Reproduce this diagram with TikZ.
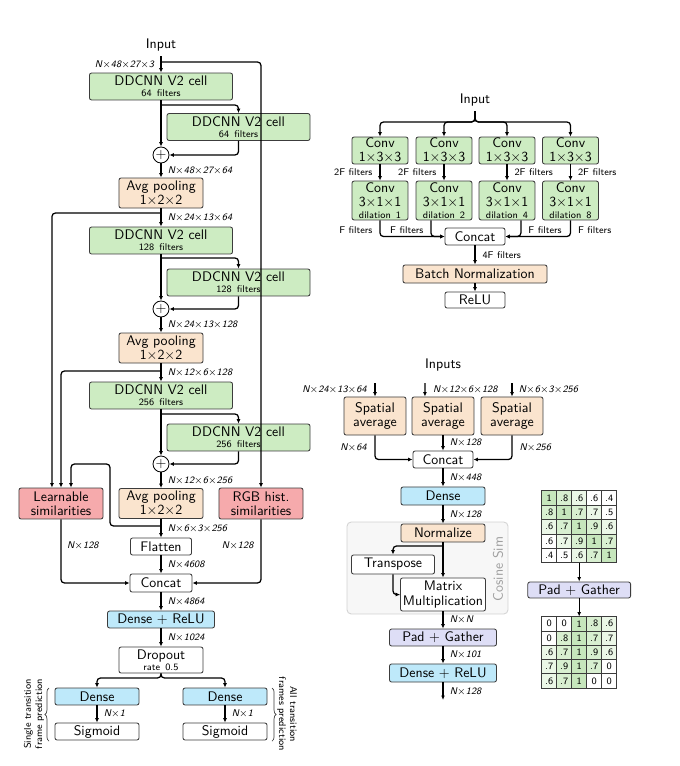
\documentclass[tikz,border=0pt]{standalone}
\usetikzlibrary{arrows.meta,decorations.pathreplacing}
\definecolor{cgreen}{RGB}{205,236,194}
\definecolor{corange}{RGB}{250,228,206}
\definecolor{cpink}{RGB}{246,170,172}
\definecolor{cblue}{RGB}{190,233,250}
\definecolor{clav}{RGB}{222,222,246}
\definecolor{cborder}{RGB}{60,60,60}
\definecolor{cella}{RGB}{198,230,188}
\definecolor{cellb}{RGB}{216,239,208}
\definecolor{cellc}{RGB}{235,247,231}
\definecolor{cellw}{RGB}{255,255,255}
\newcommand\tms{$\times$}
\newcommand\smtxt{\fontsize{7}{8}\selectfont}
\begin{document}
\begin{tikzpicture}[x=0.72pt,y=-0.72pt,
  every node/.style={font=\sffamily\fontsize{10}{10.2}\selectfont},
  nbox/.style={draw=cborder,line width=0.6pt,rounded corners=1.5pt,inner sep=0pt,align=center,fill=white},
  gbox/.style={nbox,fill=cgreen},
  obox/.style={nbox,fill=corange},
  pbox/.style={nbox,fill=cpink},
  bbox/.style={nbox,fill=cblue},
  lbox/.style={nbox,fill=clav},
  ddc/.style={gbox,minimum width=103pt,minimum height=19.4pt},
  pool/.style={obox,minimum width=60.5pt,minimum height=21.6pt},
  plus/.style={circle,draw=black,line width=0.6pt,fill=white,minimum size=11.5pt,inner sep=0pt},
  arr/.style={line width=0.9pt,-{Latex[length=3.2pt,width=2.8pt]},rounded corners=2.5pt},
  dlab/.style={font=\sffamily\itshape\fontsize{7}{8}\selectfont,inner sep=0pt},
  lab/.style={font=\sffamily\fontsize{7}{8}\selectfont,inner sep=0pt},
  mcell/.style={draw=cborder,line width=0.5pt,minimum width=10.8pt,minimum height=10.4pt,inner sep=0pt,outer sep=0pt,font=\sffamily\fontsize{7}{8}\selectfont},
  brc/.style={decorate,decoration={brace,amplitude=3pt},line width=0.5pt,cborder}
]
\fill[white] (0,0) rectangle (680,766);
\useasboundingbox (0,0) rectangle (680,766);

% ---------------- left network ----------------
\node (inL) at (161,45) {Input};
\node[ddc] (c1) at (161,86.5) {DDCNN V2 cell\\[-2.5pt]{\smtxt 64\, filters}};
\node[ddc] (c2) at (238.5,127) {DDCNN V2 cell\\[-2.5pt]{\smtxt 64\, filters}};
\node[plus] (p1) at (161,155) {$+$};
\node[pool] (a1) at (161,193) {Avg pooling\\1\tms2\tms2};
\node[ddc] (c3) at (161,240.5) {DDCNN V2 cell\\[-2.5pt]{\smtxt 128\, filters}};
\node[ddc] (c4) at (238.5,282.5) {DDCNN V2 cell\\[-2.5pt]{\smtxt 128\, filters}};
\node[plus] (p2) at (161,309) {$+$};
\node[pool] (a2) at (161,348) {Avg pooling\\1\tms2\tms2};
\node[ddc] (c5) at (161,395.5) {DDCNN V2 cell\\[-2.5pt]{\smtxt 256\, filters}};
\node[ddc] (c6) at (238.5,437.5) {DDCNN V2 cell\\[-2.5pt]{\smtxt 256\, filters}};
\node[plus] (p3) at (161,464) {$+$};
\node[pool] (a3) at (161,503.5) {Avg pooling\\1\tms2\tms2};
\node[pbox,minimum width=60.5pt,minimum height=22.3pt] (ls) at (61,503.5) {Learnable\\similarities};
\node[pbox,minimum width=60.5pt,minimum height=22.3pt] (rgb) at (261,503.5) {RGB hist.\\similarities};
\node[nbox,minimum width=44pt,minimum height=12.2pt] (fl) at (161,546.5) {Flatten};
\node[nbox,minimum width=44.6pt,minimum height=13pt] (cc) at (161,583) {Concat};
\node[bbox,minimum width=77pt,minimum height=12.2pt] (dr) at (161,619.5) {Dense $+$ ReLU};
\node[nbox,minimum width=60.5pt,minimum height=18.7pt] (do) at (161,660) {Dropout\\[-2.5pt]{\smtxt rate\, 0.5}};
\node[bbox,minimum width=60.5pt,minimum height=12.2pt] (dL) at (97,696.5) {Dense};
\node[nbox,minimum width=60.5pt,minimum height=12.2pt] (sL) at (97,731.5) {Sigmoid};
\node[bbox,minimum width=60.5pt,minimum height=12.2pt] (dR) at (225,696.5) {Dense};
\node[nbox,minimum width=60.5pt,minimum height=12.2pt] (sR) at (225,731.5) {Sigmoid};

\coordinate (j0) at (161,62);
\coordinate (j1) at (161,105);
\coordinate (j2) at (161,213);
\coordinate (j3) at (161,258);
\coordinate (j4) at (161,371);
\coordinate (j5) at (161,414);
\coordinate (j6) at (161,526);
\coordinate (w1) at (110,526);
\coordinate (w2) at (110,464);
\coordinate (jd) at (161,678);

\draw[arr] (inL) -- node[dlab,left=4.5pt]{N\tms48\tms27\tms3} (c1);
\draw[arr] (j0) -| (rgb.north);
\draw[arr] (c1) -- (p1);
\draw[arr] (j1) -| (c2.north);
\draw[arr] (c2.south) |- (p1.east);
\draw[arr] (p1) -- node[dlab,right=4.5pt]{N\tms48\tms27\tms64} (a1);
\draw[arr] (a1) -- node[dlab,right=4.5pt]{N\tms24\tms13\tms64} (c3);
\draw[arr] (j2) -| ([xshift=-6.5pt]ls.north);
\draw[arr] (c3) -- (p2);
\draw[arr] (j3) -| (c4.north);
\draw[arr] (c4.south) |- (p2.east);
\draw[arr] (p2) -- node[dlab,right=4.5pt]{N\tms24\tms13\tms128} (a2);
\draw[arr] (a2) -- node[dlab,right=4.5pt]{N\tms12\tms6\tms128} (c5);
\draw[arr] (j4) -| (ls.north);
\draw[arr] (c5) -- (p3);
\draw[arr] (j5) -| (c6.north);
\draw[arr] (c6.south) |- (p3.east);
\draw[arr] (p3) -- node[dlab,right=4.5pt]{N\tms12\tms6\tms256} (a3);
\draw[arr] (a3) -- node[dlab,right=4.5pt]{N\tms6\tms3\tms256} (fl);
\draw[arr] (j6) -- (w1) -- (w2) -| ([xshift=7.2pt]ls.north);
\draw[arr] (fl) -- node[dlab,right=4.5pt]{N\tms4608} (cc);
\draw[arr] (ls.south) |- node[dlab,pos=0.21,right=4pt]{N\tms128} (cc.west);
\draw[arr] (rgb.south) |- node[dlab,pos=0.21,left=5pt]{N\tms128} (cc.east);
\draw[arr] (cc) -- node[dlab,right=4.5pt]{N\tms4864} (dr);
\draw[arr] (dr) -- node[dlab,right=4.5pt]{N\tms1024} (do);
\draw[arr] (do.south) -- (jd) -| (dL.north);
\draw[arr] (do.south) -- (jd) -| (dR.north);
\draw[arr] (dL) -- node[dlab,right=4.5pt]{N\tms1} (sL);
\draw[arr] (dR) -- node[dlab,right=4.5pt]{N\tms1} (sR);

\draw[brc] (49,741) -- (49,688);
\draw[brc] (272,688) -- (272,741);
\node[rotate=90,align=center,font=\sffamily\smtxt] (tL) at (34,714) {Single transition\\frame prediction};
\node[rotate=-90,align=center,font=\sffamily\smtxt] (tR) at (287,714) {All transition\\frames prediction};

% ---------------- DDCNN cell ----------------
\node (in2) at (475,100) {Input};
\coordinate (jt) at (475,122);
\node[gbox,minimum width=40.3pt,minimum height=19.4pt] (k1) at (380,150.5) {Conv\\1\tms3\tms3};
\node[gbox,minimum width=40.3pt,minimum height=19.4pt] (k2) at (444,150.5) {Conv\\1\tms3\tms3};
\node[gbox,minimum width=40.3pt,minimum height=19.4pt] (k3) at (507,150.5) {Conv\\1\tms3\tms3};
\node[gbox,minimum width=40.3pt,minimum height=19.4pt] (k4) at (570.5,150.5) {Conv\\1\tms3\tms3};
\node[gbox,minimum width=40.3pt,minimum height=28pt] (m1) at (380,200.5) {Conv\\3\tms1\tms1\\[-2pt]{\smtxt dilation\, 1}};
\node[gbox,minimum width=40.3pt,minimum height=28pt] (m2) at (444,200.5) {Conv\\3\tms1\tms1\\[-2pt]{\smtxt dilation\, 2}};
\node[gbox,minimum width=40.3pt,minimum height=28pt] (m3) at (507,200.5) {Conv\\3\tms1\tms1\\[-2pt]{\smtxt dilation\, 4}};
\node[gbox,minimum width=40.3pt,minimum height=28pt] (m4) at (570.5,200.5) {Conv\\3\tms1\tms1\\[-2pt]{\smtxt dilation\, 8}};
\node[nbox,minimum width=43.2pt,minimum height=12.2pt] (cR) at (475,236.5) {Concat};
\node[obox,minimum width=103.7pt,minimum height=13pt] (bn) at (475,274) {Batch Normalization};
\node[nbox,minimum width=43.2pt,minimum height=11.5pt] (relu) at (475,300) {ReLU};

\foreach \k in {k1,k2,k3,k4} \draw[arr] (in2.south) -- (jt) -| (\k.north);
\draw[arr] (k1) -- node[lab,left=5pt]{2F filters} (m1);
\draw[arr] (k2) -- node[lab,left=5pt]{2F filters} (m2);
\draw[arr] (k3) -- node[lab,right=5pt]{2F filters} (m3);
\draw[arr] (k4) -- node[lab,right=5pt]{2F filters} (m4);
\draw[arr] (m1.south) |- node[lab,pos=0.3,left=5pt]{F filters} (cR.west);
\draw[arr] ([xshift=-9.4pt]m2.south) |- node[lab,pos=0.3,left=5pt]{F filters} (cR.west);
\draw[arr] ([xshift=10pt]m3.south) |- node[lab,pos=0.3,right=5pt]{F filters} (cR.east);
\draw[arr] (m4.south) |- node[lab,pos=0.3,right=5pt]{F filters} (cR.east);
\draw[arr] (cR) -- node[lab,right=5pt]{4F filters} (bn);
\draw[arr] (bn) -- (relu);

% ---------------- similarity branch ----------------
\node (in3) at (443,365) {Inputs};
\node[obox,minimum width=44.6pt,minimum height=27.4pt] (sa1) at (375,416) {Spatial\\average};
\node[obox,minimum width=44.6pt,minimum height=27.4pt] (sa2) at (443,416) {Spatial\\average};
\node[obox,minimum width=44.6pt,minimum height=27.4pt] (sa3) at (512,416) {Spatial\\average};
\coordinate (t1) at (375,383);
\coordinate (t2) at (425,383);
\coordinate (t3) at (512,383);
\draw[arr] (t1) -- node[dlab,left=5.5pt]{N\tms24\tms13\tms64} (sa1.north);
\draw[arr] (t2) -- node[dlab,right=5.5pt]{N\tms12\tms6\tms128} ([xshift=-13pt]sa2.north);
\draw[arr] (t3) -- node[dlab,right=4.5pt]{N\tms6\tms3\tms256} (sa3.north);
\node[nbox,minimum width=43.2pt,minimum height=12.2pt] (cM) at (443,459.5) {Concat};
\draw[arr] (sa1.south) |- node[dlab,pos=0.25,left=5.5pt]{N\tms64} (cM.west);
\draw[arr] (sa2) -- node[dlab,right=4.5pt]{N\tms128} (cM);
\draw[arr] (sa3.south) |- node[dlab,pos=0.25,right=5pt]{N\tms256} (cM.east);
\node[bbox,minimum width=60.5pt,minimum height=13pt] (dM) at (443,496) {Dense};
\draw[arr] (cM) -- node[dlab,right=4.5pt]{N\tms448} (dM);

\node[draw=gray!35,fill=gray!6,line width=0.6pt,rounded corners=3pt,minimum width=115.9pt,minimum height=66.2pt,inner sep=0pt] (cs) at (427.5,568) {};
\node[rotate=90,text=gray!75] (cst) at (498,569) {Cosine Sim};
\node[obox,minimum width=60.5pt,minimum height=13pt] (nz) at (443,533) {Normalize};
\draw[arr] (dM) -- node[dlab,right=4.5pt]{N\tms128} (nz);
\node[nbox,minimum width=59.8pt,minimum height=13.7pt] (tr) at (393,564.5) {Transpose};
\node[nbox,minimum width=61.2pt,minimum height=23.8pt] (mm) at (443,594.5) {Matrix\\Multiplication};
\coordinate (jn) at (443,546);
\draw[arr] (nz) -- (mm);
\draw[arr] (jn) -| (tr.north);
\draw[arr] (tr.south) |- (mm.west);
\node[lbox,minimum width=77pt,minimum height=12.2pt] (pg) at (443,637.5) {Pad $+$ Gather};
\draw[arr] (mm) -- node[dlab,right=4.5pt]{N\tms N} (pg);
\node[bbox,minimum width=77pt,minimum height=13pt] (dr2) at (443,673) {Dense $+$ ReLU};
\draw[arr] (pg) -- node[dlab,right=4.5pt]{N\tms101} (dr2);
\coordinate (out) at (443,700);
\draw[arr] (dr2) -- node[dlab,right=4.5pt]{N\tms128} (out);

% ---------------- matrices ----------------
\foreach \rw [count=\r] in {{1/a,.8/b,.6/c,.6/w,.4/w},{.8/b,1/a,.7/b,.7/c,.5/w},{.6/c,.7/b,1/a,.9/b,.6/c},{.6/w,.7/c,.9/b,1/a,.7/b},{.4/w,.5/w,.6/c,.7/b,1/a}}{
  \foreach \v/\cl [count=\c] in \rw {
    \node[mcell,fill=cell\cl] (A-\r-\c) at ({534.2+15*\c},{483.5+14.4*\r}) {\v};
  }
}
\node[lbox,minimum width=74pt,minimum height=11.5pt] (pg2) at (579.2,590) {Pad $+$ Gather};
\foreach \rw [count=\r] in {{0/w,0/w,1/a,.8/b,.6/c},{0/w,.8/b,1/a,.7/b,.7/c},{.6/c,.7/b,1/a,.9/b,.6/c},{.7/c,.9/b,1/a,.7/b,0/w},{.6/c,.7/b,1/a,0/w,0/w}}{
  \foreach \v/\cl [count=\c] in \rw {
    \node[mcell,fill=cell\cl] (B-\r-\c) at ({534.2+15*\c},{609.5+14.3*\r}) {\v};
  }
}
\draw[arr] (A-5-3) -- (pg2);
\draw[arr] (pg2) -- (B-1-3);
\end{tikzpicture}
\end{document}
